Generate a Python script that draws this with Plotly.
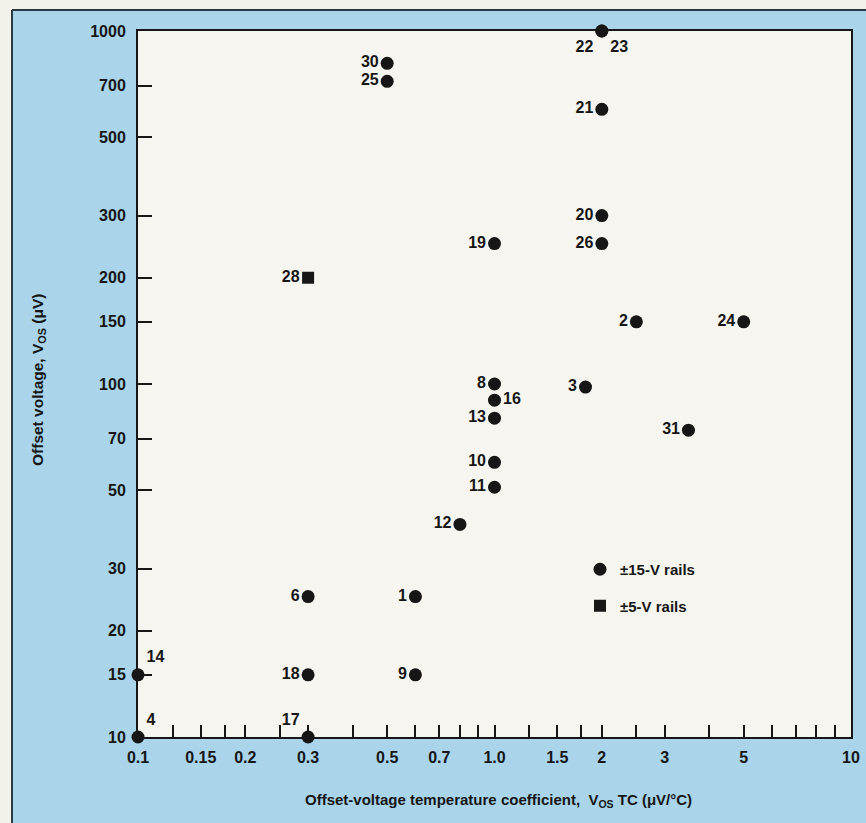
import plotly.graph_objects as go

# ---- data ----
ids_15v = ["1", "2", "3", "4", "6", "8", "9", "10", "11", "12", "13", "14", "16",
           "17", "18", "19", "20", "21", "22", "23", "24", "25", "26", "30", "31"]
tc_15v = [0.6, 2.5, 1.8, 0.1, 0.3, 1.0, 0.6, 1.0, 1.0, 0.8, 1.0, 0.1, 1.0,
          0.3, 0.3, 1.0, 2.0, 2.0, 2.0, 2.0, 5.0, 0.5, 2.0, 0.5, 3.5]
vos_15v = [25, 150, 98, 10, 25, 100, 15, 60, 51, 40, 80, 15, 90,
           10, 15, 250, 300, 600, 1000, 1000, 150, 720, 250, 810, 74]
lblpos_15v = ["middle left", "middle left", "middle left", "top right", "middle left",
              "middle left", "middle left", "middle left", "middle left", "middle left",
              "middle left", "top right", "middle right", "top left", "middle left",
              "middle left", "middle left", "middle left", "bottom left", "bottom right",
              "middle left", "middle left", "middle left", "middle left", "middle left"]

ids_5v = ["28"]
tc_5v = [0.3]
vos_5v = [200]
lblpos_5v = ["middle left"]

x_tick_vals = [0.1, 0.125, 0.15, 0.175, 0.2, 0.25, 0.3, 0.4, 0.5, 0.6, 0.7, 0.8, 0.9,
               1.0, 1.25, 1.5, 1.75, 2, 2.5, 3, 4, 5, 6, 7, 8, 9, 10]
x_tick_text = ["0.1", "", "0.15", "", "0.2", "", "0.3", "", "0.5", "", "0.7", "", "",
               "1.0", "", "1.5", "", "2", "", "3", "", "5", "", "", "", "", "10"]
y_tick_vals = [10, 15, 20, 30, 50, 70, 100, 150, 200, 300, 500, 700, 1000]
y_tick_text = [str(v) for v in y_tick_vals]

# ---- style ----
FONT = "Liberation Sans, Arial, Helvetica, sans-serif"
INK = "#161616"
BLUE = "#a9d4ea"
PAGE = "#f3f1ea"
PLOTBG = "#f7f5ef"

W, H = 866, 823
L, R, T, B = 138, 15, 31, 86
pw, ph = W - L - R, H - T - B


def px_x(p):
    return (p - L) / pw


def px_y(p):
    return (H - B - p) / ph


fig = go.Figure()

fig.add_trace(go.Scatter(
    x=tc_15v, y=vos_15v, mode="markers", name="±15-V rails",
    marker=dict(symbol="circle", size=13, color=INK),
    cliponaxis=False, legendgroup="a"))
fig.add_trace(go.Scatter(
    x=tc_5v, y=vos_5v, mode="markers", name="±5-V rails",
    marker=dict(symbol="square", size=12, color=INK),
    cliponaxis=False, legendgroup="b"))
# point number labels (transparent markers keep the text offset from the dots)
fig.add_trace(go.Scatter(
    x=tc_15v, y=vos_15v, mode="markers+text", text=ids_15v, textposition=lblpos_15v,
    marker=dict(size=12, color="rgba(0,0,0,0)"),
    textfont=dict(family=FONT, size=16, color=INK, weight="bold"),
    cliponaxis=False, showlegend=False, hoverinfo="skip"))
fig.add_trace(go.Scatter(
    x=tc_5v, y=vos_5v, mode="markers+text", text=ids_5v, textposition=lblpos_5v,
    marker=dict(size=12, color="rgba(0,0,0,0)"),
    textfont=dict(family=FONT, size=16, color=INK, weight="bold"),
    cliponaxis=False, showlegend=False, hoverinfo="skip"))

axis_common = dict(
    showline=True, linecolor=INK, linewidth=2, mirror=True,
    ticks="inside", tickcolor=INK, tickwidth=2,
    showgrid=False, zeroline=False, automargin=False,
    tickfont=dict(family=FONT, size=16, color=INK, weight="bold"),
)

fig.update_xaxes(type="log", range=[-1, 1], tickmode="array",
                 tickvals=x_tick_vals, ticktext=x_tick_text, ticklen=12,
                 ticklabelstandoff=5, **axis_common)
fig.update_yaxes(type="log", range=[1, 3], tickmode="array",
                 tickvals=y_tick_vals, ticktext=y_tick_text, ticklen=14,
                 ticklabelstandoff=7, **axis_common)

shapes = [
    # page strips outside the blue panel
    dict(type="rect", xref="paper", yref="paper", x0=px_x(0), x1=px_x(12),
         y0=px_y(H), y1=px_y(0), fillcolor=PAGE, line=dict(width=0)),
    dict(type="rect", xref="paper", yref="paper", x0=px_x(0), x1=px_x(W),
         y0=px_y(10), y1=px_y(0), fillcolor=PAGE, line=dict(width=0)),
    # panel frame lines
    dict(type="line", xref="paper", yref="paper", x0=px_x(12), x1=px_x(W),
         y0=px_y(10), y1=px_y(10), line=dict(color="#2a3a44", width=2)),
    dict(type="line", xref="paper", yref="paper", x0=px_x(12), x1=px_x(12),
         y0=px_y(10), y1=px_y(H), line=dict(color="#2a3a44", width=2)),
]

annotations = [
    dict(text="Offset voltage, V<sub>OS</sub> (μV)", xref="paper", yref="paper",
         x=px_x(38), y=px_y(380), textangle=-90, showarrow=False,
         xanchor="center", yanchor="middle",
         font=dict(family=FONT, size=15.5, color=INK, weight="bold")),
    dict(text="Offset-voltage temperature coefficient,  V<sub>OS</sub> TC (μV/°C)",
         xref="paper", yref="paper", x=px_x(498), y=px_y(800), showarrow=False,
         xanchor="center", yanchor="middle",
         font=dict(family=FONT, size=15, color=INK, weight="bold")),
]

fig.update_layout(
    width=W, height=H,
    margin=dict(l=L, r=R, t=T, b=B, pad=0),
    paper_bgcolor=BLUE, plot_bgcolor=PLOTBG,
    shapes=shapes, annotations=annotations,
    showlegend=True,
    legend=dict(x=px_x(580), y=px_y(553), xanchor="left", yanchor="top",
                bgcolor="rgba(0,0,0,0)", borderwidth=0, tracegroupgap=14,
                font=dict(family=FONT, size=15, color=INK, weight="bold")),
)

fig.write_html(
    "out.html",
    config={"displayModeBar": False},
    post_script="document.body.style.margin='0';document.body.style.background='%s';" % PAGE,
)
